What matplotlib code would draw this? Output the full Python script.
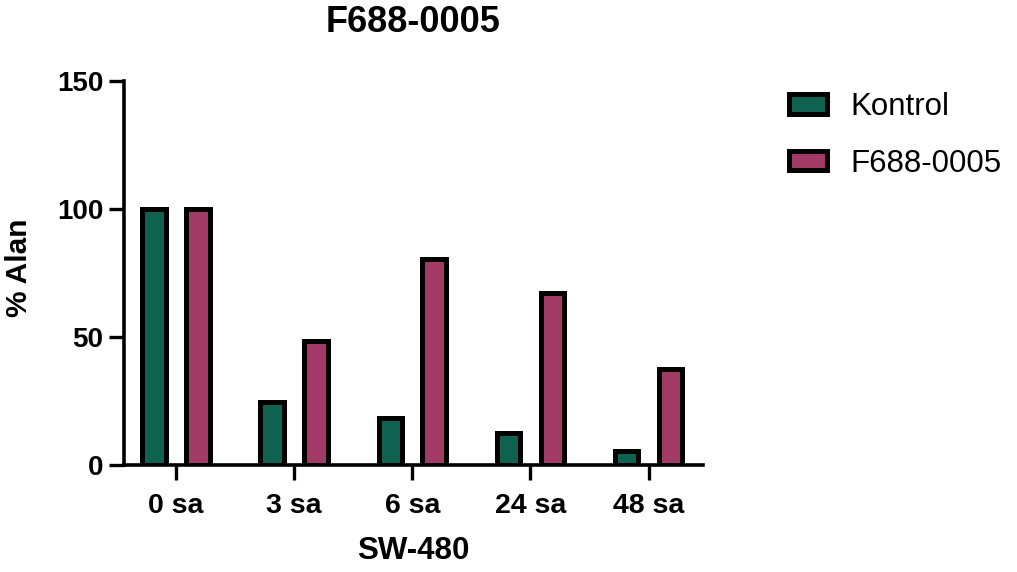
import matplotlib
matplotlib.use("Agg")
import matplotlib.pyplot as plt
import numpy as np
from matplotlib.patches import Patch

plt.rcParams['font.family'] = ['Liberation Sans', 'DejaVu Sans']

categories = ["0 sa", "3 sa", "6 sa", "24 sa", "48 sa"]
kontrol = [100, 24.5, 18.5, 12.5, 5.5]
f688 = [100, 48.5, 80.5, 67, 37.5]
series_names = ["Kontrol", "F688-0005"]
colors = ["#0F6150", "#A23A66"]
yticks = [0, 50, 100, 150]

fig = plt.figure(figsize=(10.17, 5.72), dpi=100)
ax = fig.add_axes([124/1017, 1-465/572, (703-124)/1017, (465-81)/572])

x = np.arange(len(categories))
width = 0.2
offset = 0.186
lw = 3.6
ax.bar(x - offset, kontrol, width, color=colors[0], edgecolor="black", linewidth=lw, zorder=3)
ax.bar(x + offset, f688, width, color=colors[1], edgecolor="black", linewidth=lw, zorder=3)

ax.set_xlim(-0.44, 4.46)
ax.set_ylim(0, 150)
ax.set_xticks(x)
ax.set_xticklabels(categories, fontsize=20.5, fontweight="bold")
ax.set_yticks(yticks)
ax.set_yticklabels([str(v) for v in yticks], fontsize=20, fontweight="bold")
ax.tick_params(axis="both", length=11, width=2.4)
ax.tick_params(axis="x", pad=9)
ax.tick_params(axis="y", pad=4)

for side in ["top", "right"]:
    ax.spines[side].set_visible(False)
for side in ["left", "bottom"]:
    ax.spines[side].set_linewidth(2.6)
    ax.spines[side].set_zorder(4)

ax.set_xlabel("SW-480", fontsize=22.5, fontweight="bold")
ax.xaxis.set_label_coords(0.5, -0.185)
ax.set_ylabel("% Alan", fontsize=21.5, fontweight="bold")
ax.yaxis.set_label_coords(-0.157, 0.514)
ax.set_title("F688-0005", fontsize=26, fontweight="bold", pad=35)

handles = [Patch(facecolor=c, edgecolor="black", linewidth=lw) for c in colors]
fig.legend(handles, series_names, loc="upper left",
           bbox_to_anchor=(789/1017, 1-92/572), frameon=False,
           fontsize=22.5, handlelength=1.2, handleheight=0.6,
           handletextpad=0.75, labelspacing=0.85, borderpad=0, borderaxespad=0)

fig.savefig("out.png", dpi=100)
